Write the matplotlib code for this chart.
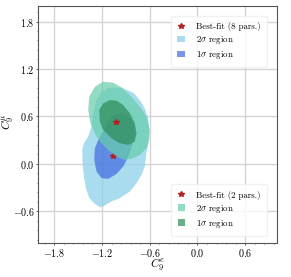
import matplotlib
matplotlib.use("Agg")
import matplotlib.pyplot as plt
from matplotlib.ticker import MultipleLocator, AutoMinorLocator

plt.rcParams['font.family'] = 'serif'
plt.rcParams['font.serif'] = ['cmr10', 'DejaVu Serif']
plt.rcParams['mathtext.fontset'] = 'cm'
plt.rcParams['axes.formatter.use_mathtext'] = True

# contour outlines (C9e, C9mu)
blue2_x = [-1.101, -0.933, -0.807, -0.724, -0.661, -0.619, -0.606, -0.619, -0.648, -0.661, -0.703, -0.766,
           -0.849, -0.975, -1.080, -1.184, -1.226, -1.289, -1.360, -1.402, -1.427, -1.444, -1.448, -1.427,
           -1.373, -1.331, -1.310, -1.268, -1.205]
blue2_y = [0.966, 0.954, 0.899, 0.806, 0.701, 0.575, 0.427, 0.259, 0.090, -0.036, -0.141, -0.247,
           -0.352, -0.436, -0.478, -0.541, -0.550, -0.508, -0.436, -0.310, -0.162, 0.006, 0.175, 0.259,
           0.343, 0.469, 0.638, 0.806, 0.911]

blue1_x = [-0.996, -0.912, -0.841, -0.795, -0.787, -0.816, -0.870, -0.933, -1.017, -1.122, -1.205, -1.268,
           -1.297, -1.289, -1.247, -1.184, -1.134, -1.080]
blue1_y = [0.646, 0.629, 0.562, 0.469, 0.364, 0.238, 0.090, -0.036, -0.129, -0.192, -0.183, -0.099,
           0.048, 0.196, 0.301, 0.406, 0.511, 0.604]

green2_x = [-1.184, -1.059, -0.954, -0.849, -0.724, -0.640, -0.598, -0.606, -0.640, -0.724, -0.807, -0.912,
            -1.017, -1.122, -1.226, -1.289, -1.344, -1.373, -1.360, -1.289]
green2_y = [1.038, 1.025, 0.966, 0.869, 0.722, 0.596, 0.427, 0.301, 0.196, 0.111, 0.069, 0.048,
            0.090, 0.175, 0.280, 0.385, 0.511, 0.680, 0.848, 0.975]

green1_x = [-1.101, -1.017, -0.933, -0.849, -0.787, -0.766, -0.787, -0.870, -0.975, -1.080, -1.184, -1.226,
            -1.235, -1.184]
green1_y = [0.806, 0.798, 0.743, 0.638, 0.511, 0.385, 0.280, 0.238, 0.259, 0.322, 0.427, 0.532,
            0.680, 0.764]

best8 = (-1.059, 0.099)
best2 = (-1.029, 0.532)

fig = plt.figure(figsize=(2.91, 2.77), dpi=100)
ax = fig.add_axes([0.1316, 0.1238, 0.8204, 0.8556])

ax.grid(True, color='#d4d4d4', lw=1.0, zorder=0)
ax.set_axisbelow(True)

b2 = ax.fill(blue2_x, blue2_y, color='skyblue', alpha=0.7, lw=0, zorder=1)[0]
b1 = ax.fill(blue1_x, blue1_y, color='royalblue', alpha=0.7, lw=0, zorder=2)[0]
s8, = ax.plot(*best8, marker='*', color='firebrick', ms=4, ls='none', zorder=3)
g2 = ax.fill(green2_x, green2_y, color='mediumaquamarine', alpha=0.7, lw=0, zorder=4)[0]
g1 = ax.fill(green1_x, green1_y, color='seagreen', alpha=0.7, lw=0, zorder=5)[0]
s2, = ax.plot(*best2, marker='*', color='firebrick', ms=4, ls='none', zorder=6)

ax.set_xlim(-2.0, 1.0)
ax.set_ylim(-1.0, 2.0)
ax.xaxis.set_major_locator(MultipleLocator(0.6))
ax.yaxis.set_major_locator(MultipleLocator(0.6))
ax.xaxis.set_minor_locator(AutoMinorLocator(5))
ax.yaxis.set_minor_locator(AutoMinorLocator(5))
ax.tick_params(which='major', labelsize=7.3, length=1.5, width=0.6, color='#444444')
ax.tick_params(which='minor', length=1.0, width=0.5, color='#444444')
ax.tick_params(axis='x', which='major', pad=1.5)
ax.tick_params(axis='y', which='major', pad=1.0)
for sp in ax.spines.values():
    sp.set_color('#555555')
    sp.set_linewidth(0.8)

ax.set_xlabel(r'$C_9^{e}$', fontsize=8.5)
ax.set_ylabel(r'$C_9^{\mu}$', fontsize=8.5, va='center')
ax.xaxis.set_label_coords(0.5, -0.06)
ax.yaxis.set_label_coords(-0.129, 0.51)

leg_kw = dict(borderaxespad=0, fontsize=6.4, framealpha=0.8, edgecolor='#eeeeee',
              handlelength=0.8, handleheight=0.8, handletextpad=1.3,
              borderpad=0.7, labelspacing=0.35)
leg1 = ax.legend([s8, b2, b1], ['Best-fit (8 pars.)', r'2$\sigma$ region', r'1$\sigma$ region'],
                 loc='upper right', bbox_to_anchor=(0.958, 0.958), **leg_kw)
ax.add_artist(leg1)
ax.legend([s2, g2, g1], ['Best-fit (2 pars.)', r'2$\sigma$ region', r'1$\sigma$ region'],
          loc='lower right', bbox_to_anchor=(0.958, 0.028), **leg_kw)

fig.savefig('out.png', dpi=100)
